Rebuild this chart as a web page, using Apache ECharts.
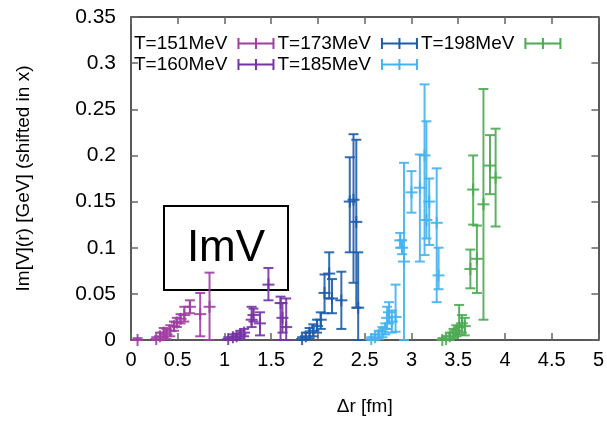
<!DOCTYPE html>
<html><head><meta charset="utf-8">
<script src="https://cdn.jsdelivr.net/npm/echarts@6/dist/echarts.min.js"></script>
<style>html,body{margin:0;padding:0;background:#fff}#c{width:607px;height:421px}</style>
</head><body><div id="c"></div>
<script>
// ---- data (x = shifted r in fm, y = Im V in GeV, lo/hi = error bar ends) ----
const seriesNames = ['T=151MeV', 'T=160MeV', 'T=173MeV', 'T=185MeV', 'T=198MeV'];

const t151X  = [0.07, 0.27, 0.31, 0.35, 0.38, 0.42, 0.46, 0.49, 0.53, 0.57, 0.63, 0.74, 0.84];
const t151Y  = [0.000,0.001,0.004,0.008,0.006,0.010,0.015,0.019,0.023,0.027,0.036,0.028,0.036];
const t151Lo = [0.000,0.000,0.000,0.003,0.001,0.004,0.010,0.014,0.018,0.020,0.029,0.004,0.000];
const t151Hi = [0.002,0.003,0.008,0.013,0.012,0.016,0.020,0.024,0.028,0.036,0.043,0.051,0.073];

const t160X  = [1.04, 1.09, 1.13, 1.17, 1.21, 1.29, 1.31, 1.38, 1.47, 1.60, 1.62, 1.66];
const t160Y  = [0.001,0.003,0.004,0.006,0.008,0.022,0.027,0.018,0.060,0.040,0.024,0.014];
const t160Lo = [0.000,0.000,0.001,0.002,0.004,0.014,0.020,0.005,0.043,0.000,0.008,0.000];
const t160Hi = [0.003,0.006,0.007,0.010,0.012,0.036,0.034,0.030,0.078,0.047,0.040,0.045];

const t173X  = [1.83, 1.87, 1.91, 1.95, 1.99, 2.03, 2.07, 2.12, 2.15, 2.25, 2.34, 2.38, 2.41, 2.43];
const t173Y  = [0.001,0.004,0.008,0.010,0.015,0.022,0.051,0.072,0.045,0.043,0.150,0.152,0.128,0.035];
const t173Lo = [0.000,0.000,0.002,0.004,0.008,0.012,0.029,0.045,0.029,0.012,0.095,0.062,0.035,0.000];
const t173Hi = [0.003,0.008,0.013,0.017,0.022,0.030,0.071,0.095,0.066,0.074,0.198,0.223,0.217,0.095];

const t185X  = [2.57, 2.61, 2.65, 2.69, 2.72, 2.74, 2.76, 2.79, 2.83, 2.88, 2.90, 2.92, 3.00, 3.09, 3.14, 3.16, 3.19, 3.27, 3.29];
const t185Y  = [0.001,0.003,0.006,0.009,0.012,0.024,0.030,0.020,0.025,0.108,0.100,0.085,0.160,0.165,0.200,0.130,0.150,0.127,0.070];
const t185Lo = [0.000,0.000,0.001,0.003,0.006,0.012,0.018,0.008,0.009,0.100,0.093,0.000,0.138,0.085,0.092,0.110,0.103,0.041,0.055];
const t185Hi = [0.003,0.006,0.010,0.014,0.018,0.036,0.041,0.032,0.060,0.116,0.108,0.192,0.183,0.201,0.277,0.237,0.175,0.186,0.100];

const t198X  = [3.33, 3.37, 3.41, 3.45, 3.48, 3.51, 3.54, 3.57, 3.63, 3.66, 3.70, 3.77, 3.84, 3.90];
const t198Y  = [0.000,0.001,0.004,0.007,0.010,0.014,0.018,0.015,0.077,0.163,0.088,0.147,0.189,0.176];
const t198Lo = [0.000,0.000,0.000,0.002,0.004,0.006,0.008,0.005,0.056,0.125,0.051,0.022,0.158,0.123];
const t198Hi = [0.002,0.004,0.008,0.012,0.016,0.038,0.027,0.024,0.098,0.200,0.124,0.272,0.222,0.229];

const seriesColors = ['#a03fa3', '#7533a6', '#1d5cab', '#44b3ee', '#4caa52'];

// ---- build ----
function zip(xs, ys, lo, hi) { return xs.map((x, i) => [x, ys[i], lo[i], hi[i]]); }
const allData = [
  zip(t151X, t151Y, t151Lo, t151Hi),
  zip(t160X, t160Y, t160Lo, t160Hi),
  zip(t173X, t173Y, t173Lo, t173Hi),
  zip(t185X, t185Y, t185Lo, t185Hi),
  zip(t198X, t198Y, t198Lo, t198Hi)
];

function renderItem(params, api) {
  const x = api.value(0), y = api.value(1), lo = api.value(2), hi = api.value(3);
  const pc = api.coord([x, y]), pl = api.coord([x, lo]), ph = api.coord([x, hi]);
  const cap = 5, mk = 6;
  const style = { stroke: api.visual('color'), lineWidth: 2, opacity: 0.9 };
  return {
    type: 'group',
    children: [
      { type: 'line', shape: { x1: pl[0], y1: pl[1], x2: ph[0], y2: ph[1] }, style },
      { type: 'line', shape: { x1: pl[0] - cap, y1: pl[1], x2: pl[0] + cap, y2: pl[1] }, style },
      { type: 'line', shape: { x1: ph[0] - cap, y1: ph[1], x2: ph[0] + cap, y2: ph[1] }, style },
      { type: 'line', shape: { x1: pc[0] - mk, y1: pc[1], x2: pc[0] + mk, y2: pc[1] }, style },
      { type: 'line', shape: { x1: pc[0], y1: pc[1] - mk, x2: pc[0], y2: pc[1] + mk }, style }
    ]
  };
}

const FONT = 'Liberation Sans';
const legendIcon = 'path://M0,0H2V11H0Z M0,4.5H37V6.5H0Z M35,0H37V11H35Z M17.5,0H19.5V11H17.5Z';
const legendBase = {
  left: 134, icon: legendIcon, itemWidth: 37, itemHeight: 11, itemGap: 3, align: 'right',
  padding: 0, selectedMode: false,
  textStyle: { fontFamily: FONT, fontSize: 19, color: '#000', padding: [0, 5, 0, 0] }
};

const axisCommon = {
  axisLine: { show: true, onZero: false, lineStyle: { color: '#222', width: 1.5 } },
  axisTick: { show: true, inside: true, length: 7, lineStyle: { color: '#666', width: 1.5 } },
  splitLine: { show: false }
};

const chart = echarts.init(document.getElementById('c'));
chart.setOption({
  animation: false,
  backgroundColor: '#fff',
  grid: { left: 131, right: 6, top: 17, bottom: 81 },
  legend: [
    Object.assign({}, legendBase, { top: 34, data: [seriesNames[0], seriesNames[2], seriesNames[4]] }),
    Object.assign({}, legendBase, { top: 55, data: [seriesNames[1], seriesNames[3]] })
  ],
  xAxis: [
    Object.assign({}, axisCommon, {
      type: 'value', min: 0, max: 5, interval: 0.5, position: 'bottom',
      name: 'Δr [fm]', nameLocation: 'middle', nameGap: 57,
      nameTextStyle: { fontFamily: FONT, fontSize: 19, color: '#000' },
      axisLabel: { fontFamily: FONT, fontSize: 20, color: '#000', margin: 10 }
    }),
    Object.assign({}, axisCommon, {
      type: 'value', min: 0, max: 5, interval: 0.5, position: 'top', axisLabel: { show: false }
    })
  ],
  yAxis: [
    Object.assign({}, axisCommon, {
      type: 'value', min: 0, max: 0.35, interval: 0.05, position: 'left',
      name: 'Im[V](r) [GeV] (shifted in x)', nameLocation: 'middle', nameGap: 98,
      nameTextStyle: { fontFamily: FONT, fontSize: 19, color: '#000' },
      axisLabel: { fontFamily: FONT, fontSize: 21, color: '#000', margin: 15 }
    }),
    Object.assign({}, axisCommon, {
      type: 'value', min: 0, max: 0.35, interval: 0.05, position: 'right', axisLabel: { show: false }
    })
  ],
  graphic: [
    { type: 'rect', z: 1, shape: { x: 164, y: 206, width: 124, height: 84 },
      style: { fill: 'none', stroke: '#000', lineWidth: 2 } },
    { type: 'text', z: 1, x: 226, y: 249,
      style: { text: 'ImV', font: '44px "Liberation Sans"', fill: '#000', align: 'center', verticalAlign: 'middle' } }
  ],
  series: seriesNames.map((name, i) => ({
    name, type: 'custom', renderItem, clip: false,
    color: seriesColors[i], itemStyle: { color: seriesColors[i] },
    encode: { x: 0, y: 1 },
    data: allData[i], z: 3
  }))
});
</script></body></html>
